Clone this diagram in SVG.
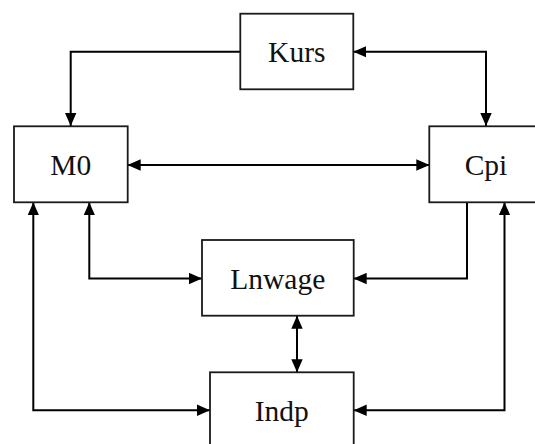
<svg xmlns="http://www.w3.org/2000/svg" width="535" height="444" viewBox="0 0 535 444">
<style>
.box{fill:#fff;stroke:#1a1a1a;stroke-width:1.8}
.lbl{font-family:"Liberation Serif","Times New Roman",serif;font-size:29.5px;fill:#111;text-anchor:middle}
.ln{fill:none;stroke:#000;stroke-width:2}
</style>
<defs>
<marker id="ah" markerUnits="userSpaceOnUse" markerWidth="13" markerHeight="12" refX="13" refY="6" orient="auto-start-reverse" viewBox="0 0 13 12">
<path d="M0,0.3 L13,6 L0,11.7 z" fill="#000"/>
</marker>
</defs>
<rect width="535" height="444" fill="#fff"/>
<g id="connectors">
<path class="ln" d="M240.3,51.7 H70.7 V126" marker-end="url(#ah)"/>
<path class="ln" d="M486,126 V51.7 H353.3" marker-start="url(#ah)" marker-end="url(#ah)"/>
<path class="ln" d="M127.7,165 H429.3" marker-start="url(#ah)" marker-end="url(#ah)"/>
<path class="ln" d="M89.3,202.3 V278.5 H202" marker-start="url(#ah)" marker-end="url(#ah)"/>
<path class="ln" d="M467,202.3 V278.5 H353.7" marker-end="url(#ah)"/>
<path class="ln" d="M297,315.7 V372.3" marker-start="url(#ah)" marker-end="url(#ah)"/>
<path class="ln" d="M33.3,202.3 V410.3 H210" marker-start="url(#ah)" marker-end="url(#ah)"/>
<path class="ln" d="M504.5,202.3 V410.3 H353.7" marker-start="url(#ah)" marker-end="url(#ah)"/>
</g>
<g id="kurs">
<rect class="box" x="240.3" y="13.7" width="113" height="75.6"/>
<text class="lbl" x="296.8" y="62">Kurs</text>
</g>
<g id="m0">
<rect class="box" x="14" y="126.3" width="113.7" height="76"/>
<text class="lbl" x="70.8" y="174.5">M0</text>
</g>
<g id="cpi">
<rect class="box" x="429.3" y="126.3" width="113.7" height="76"/>
<text class="lbl" x="486" y="174.5">Cpi</text>
</g>
<g id="lnwage">
<rect class="box" x="202" y="240" width="151.7" height="75.7"/>
<text class="lbl" x="277.8" y="288.5">Lnwage</text>
</g>
<g id="indp">
<rect class="box" x="210" y="372.3" width="143.7" height="76"/>
<text class="lbl" x="281.8" y="420.5">Indp</text>
</g>
</svg>
